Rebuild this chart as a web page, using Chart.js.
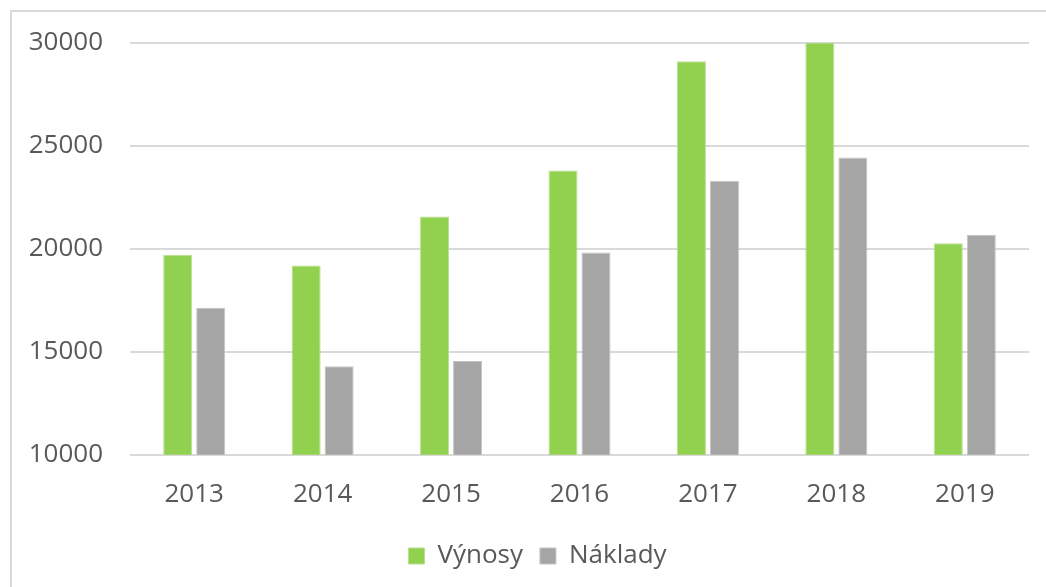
<!DOCTYPE html>
<html>
<head>
<meta charset="utf-8">
<script src="https://cdn.jsdelivr.net/npm/chart.js@4/dist/chart.umd.min.js"></script>
<style>
  html, body { margin: 0; padding: 0; background: #fff; }
  #wrap { position: relative; width: 1046px; height: 587px; }
  #frame { position: absolute; left: 10px; top: 10px; width: 1040px; height: 590px;
           border: 2px solid #d9d9d9; pointer-events: none; }
</style>
</head>
<body>
<div id="wrap">
  <canvas id="chart" width="1046" height="587"></canvas>
  <div id="frame"></div>
</div>
<script>
// data
var years = ["2013", "2014", "2015", "2016", "2017", "2018", "2019"];
var vynosy = [19710, 19190, 21560, 23790, 29090, 30000, 20260];
var naklady = [17130, 14300, 14550, 19810, 23300, 24430, 20680];
var yTicks = [10000, 15000, 20000, 25000, 30000];

var font = { family: "'Open Sans', sans-serif", size: 26 };

// legend sits a bit right of centre in the original
var legendShift = {
	id: "legendShift",
	afterLayout: function(chart) {
		chart.legend.left += 46;
	}
};

var ctx = document.getElementById("chart");
var chart = new Chart(ctx, {
	type: "bar",
	data: {
		labels: years,
		datasets: [{
			label: "Výnosy",
			data: vynosy,
			backgroundColor: "#92d050",
			borderColor: "#b9e08e",
			borderWidth: 1
		}, {
			label: "Náklady",
			data: naklady,
			backgroundColor: "#a5a5a5",
			borderColor: "#c4c4c4",
			borderWidth: 1
		}]
	},
	options: {
		responsive: false,
		animation: false,
		layout: { padding: { left: 0, right: 17, top: 26, bottom: 8 } },
		datasets: {
			bar: { categoryPercentage: 0.514, barPercentage: 0.88 }
		},
		scales: {
			x: {
				grid: { display: false },
				border: { display: false },
				ticks: { color: "#595959", font: font, padding: 16 }
			},
			y: {
				min: yTicks[0],
				max: yTicks[yTicks.length - 1],
				afterBuildTicks: function(scale) {
					scale.ticks = yTicks.map(function(v) { return { value: v }; });
				},
				afterFit: function(scale) { scale.width = 130; },
				grid: { color: "#d9d9d9", lineWidth: 2, drawTicks: false },
				border: { display: false },
				ticks: {
					color: "#595959", font: font, padding: 27,
					callback: function(value) { return String(value); }
				}
			}
		},
		plugins: {
			legend: {
				position: "bottom",
				labels: {
					color: "#595959",
					font: font,
					boxWidth: 16,
					boxHeight: 16,
					padding: 17
				}
			},
			tooltip: { enabled: false }
		}
	},
	plugins: [legendShift]
});
</script>
</body>
</html>
